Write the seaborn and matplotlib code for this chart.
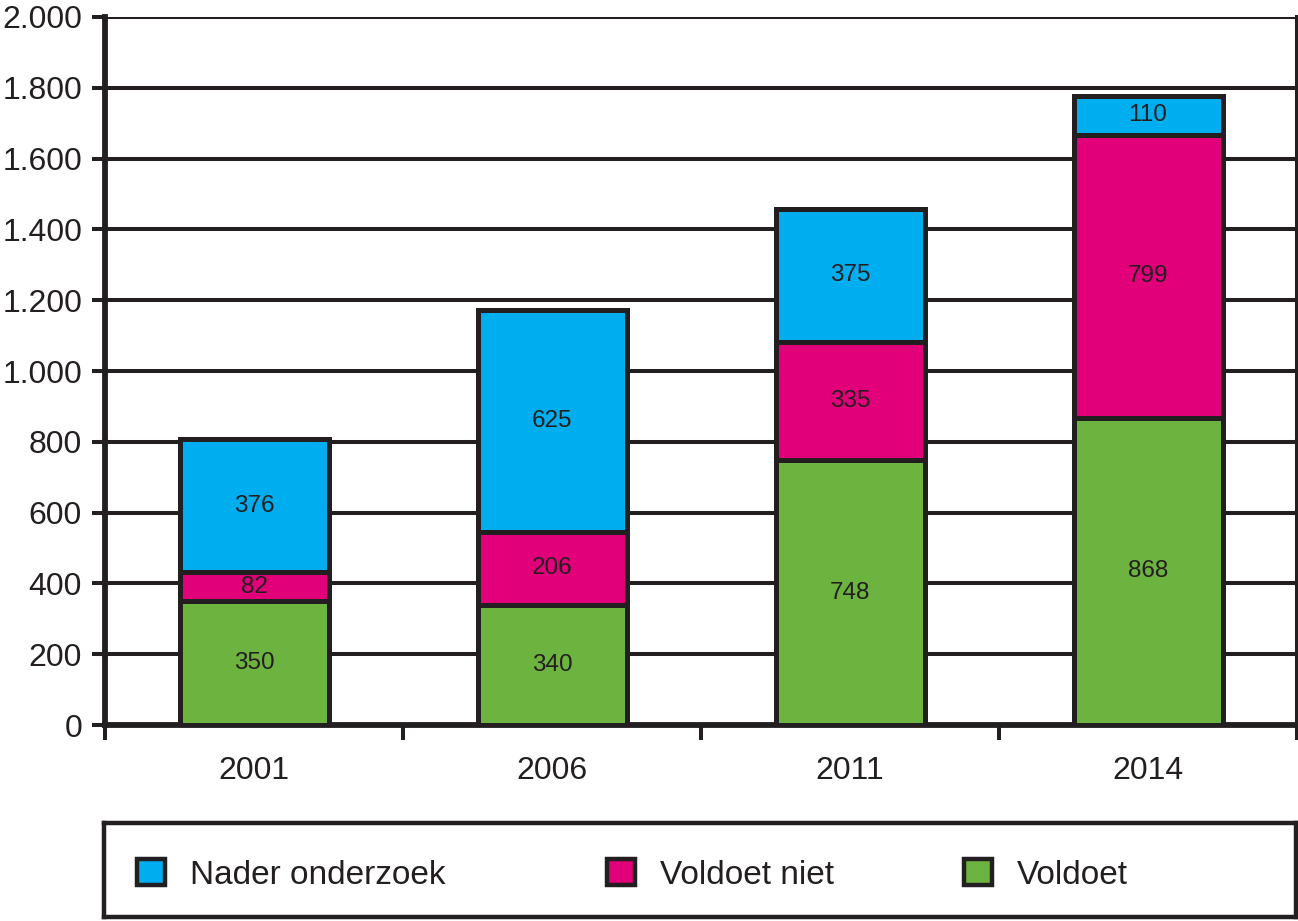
import numpy as np
import pandas as pd
import matplotlib
matplotlib.use("Agg")
import matplotlib.pyplot as plt
from matplotlib.ticker import FuncFormatter, FixedLocator
from matplotlib.patches import Patch
import seaborn as sns

# Data (bottom to top per bar)
years = ["2001", "2006", "2011", "2014"]
voldoet = [350, 340, 748, 868]
voldoet_niet = [82, 206, 335, 799]
nader_onderzoek = [376, 625, 375, 110]

series_names = ["Voldoet", "Voldoet niet", "Nader onderzoek"]
colors = {"Voldoet": "#6DB33F", "Voldoet niet": "#E2007A", "Nader onderzoek": "#00ADEF"}
dark = "#231F20"

sns.set_theme(style="white")
plt.rcParams["font.family"] = ["Liberation Sans", "DejaVu Sans"]

df = pd.DataFrame({"year": years, "Voldoet": voldoet,
                   "Voldoet niet": voldoet_niet, "Nader onderzoek": nader_onderzoek})

W, H = 1298, 921
fig = plt.figure(figsize=(W / 100, H / 100), dpi=100)
ax = fig.add_axes([105 / W, 1 - 725 / H, 1192 / W, 708 / H])

bottom = np.zeros(len(years))
for name in series_names:
    vals = df[name].to_numpy()
    sns.barplot(x=df["year"], y=vals, bottom=bottom, color=colors[name],
                width=0.5, edgecolor=dark, linewidth=3.6, saturation=1,
                ax=ax, zorder=3)
    for i, v in enumerate(vals):
        ax.text(i, bottom[i] + v / 2, str(v), ha="center", va="center",
                fontsize=17.5, color=dark, zorder=4)
    bottom = bottom + vals

ax.set_ylim(0, 2000)
ax.set_xlim(-0.5, len(years) - 0.5)
ax.set_yticks(np.arange(0, 2001, 200))
ax.yaxis.set_major_formatter(FuncFormatter(lambda v, p: f"{int(v):,}".replace(",", ".")))
ax.grid(axis="y", color=dark, linewidth=2.9)
ax.set_axisbelow(True)

# x ticks: marks at category boundaries, labels centered
ax.xaxis.set_major_locator(FixedLocator(np.arange(-0.5, len(years), 1.0)))
ax.xaxis.set_minor_locator(FixedLocator(np.arange(len(years))))
ax.set_xticklabels([], minor=False)
ax.set_xticklabels(years, minor=True)
ax.tick_params(axis="x", which="major", direction="out", length=11, width=2.9,
               color=dark, bottom=True)
ax.tick_params(axis="x", which="minor", length=0, pad=22, labelsize=23,
               labelcolor=dark, bottom=True)
ax.tick_params(axis="y", direction="out", length=9.5, width=2.9, color=dark,
               left=True, labelsize=23, labelcolor=dark, pad=7)
ax.set_xlabel("")
ax.set_ylabel("")

for side in ["left", "bottom"]:
    ax.spines[side].set_color(dark)
    ax.spines[side].set_linewidth(4.2)
ax.spines["right"].set_color(dark)
ax.spines["right"].set_linewidth(2.9)
ax.spines["top"].set_visible(False)

# Legend box
lax = fig.add_axes([104 / W, 1 - 917 / H, 1192 / W, 94 / H])
lax.set_xticks([])
lax.set_yticks([])
for s in lax.spines.values():
    s.set_color(dark)
    s.set_linewidth(3.2)

legend_items = ["Nader onderzoek", "Voldoet niet", "Voldoet"]
legend_x = [137, 607, 964]
for k, (name, x0) in enumerate(zip(legend_items, legend_x)):
    h = Patch(facecolor=colors[name], edgecolor=dark, linewidth=3.2, label=name)
    leg = lax.legend(handles=[h], loc="center left",
                     bbox_to_anchor=((x0 - 104) / 1192, 0.45), frameon=False,
                     fontsize=24, handlelength=0.85, handleheight=0.85,
                     handletextpad=0.75, borderaxespad=0, borderpad=0,
                     labelcolor=dark)
    if k < len(legend_items) - 1:
        lax.add_artist(leg)

fig.savefig("out.png", dpi=100)
